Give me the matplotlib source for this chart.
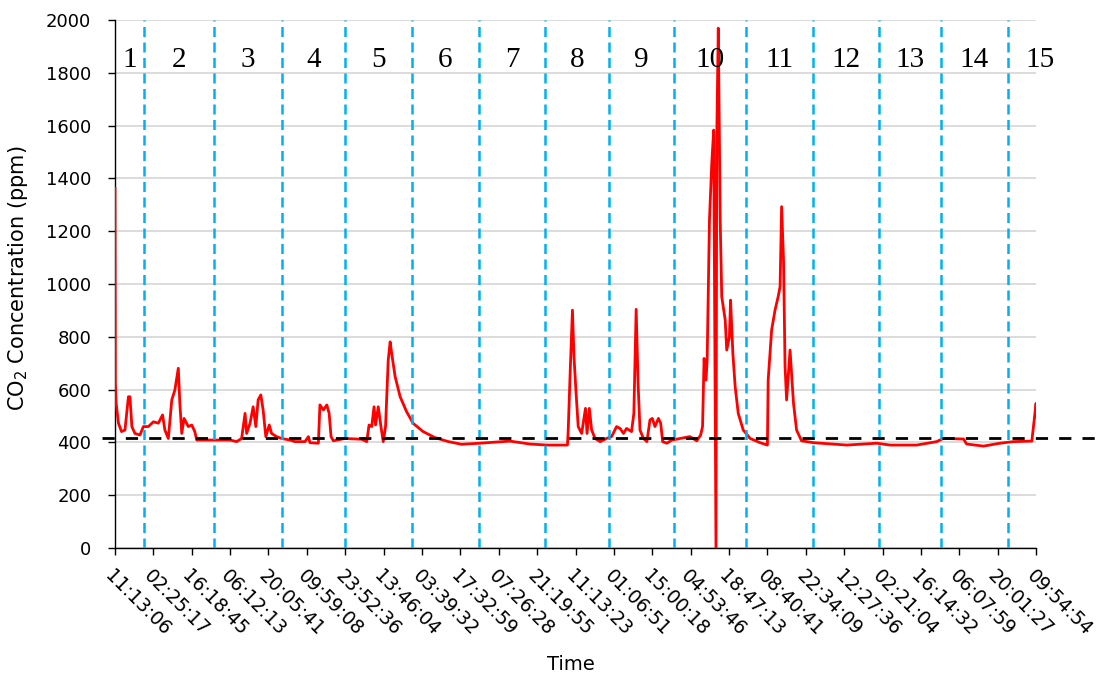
import matplotlib
matplotlib.use("Agg")
import matplotlib.pyplot as plt
import matplotlib.transforms as mtransforms

# x positions are in units of the labelled reading intervals (tick index)
tick_labels = ["11:13:06", "02:25:17", "16:18:45", "06:12:13", "20:05:41",
               "09:59:08", "23:52:36", "13:46:04", "03:39:32", "17:32:59",
               "07:26:28", "21:19:55", "11:13:23", "01:06:51", "15:00:18",
               "04:53:46", "18:47:13", "08:40:41", "22:34:09", "12:27:36",
               "02:21:04", "16:14:32", "06:07:59", "20:01:27", "09:54:54"]

reading_pos = [0.00, 0.01, 0.03, 0.09, 0.17, 0.26, 0.35, 0.39, 0.44, 0.52,
               0.65, 0.74, 0.87, 1.00, 1.13, 1.24, 1.30, 1.39, 1.48, 1.56,
               1.65, 1.69, 1.74, 1.80, 1.91, 2.00, 2.08, 2.13, 2.48, 3.00,
               3.17, 3.30, 3.39, 3.43, 3.52, 3.60, 3.67, 3.73, 3.80, 3.86,
               3.93, 4.02, 4.08, 4.21, 4.34, 4.56, 4.69, 4.95, 5.04, 5.08,
               5.30, 5.34, 5.43, 5.52, 5.58, 5.63, 5.69, 5.99, 6.43, 6.56,
               6.62, 6.69, 6.75, 6.79, 6.86, 6.93, 6.99, 7.05, 7.12, 7.17,
               7.21, 7.30, 7.43, 7.60, 7.77, 8.03, 8.34, 8.69, 9.03, 9.51,
               10.29, 10.81, 11.25, 11.79, 11.81, 11.86, 11.92, 11.96, 12.01, 12.07,
               12.16, 12.20, 12.26, 12.30, 12.36, 12.42, 12.51, 12.64, 12.81, 12.94,
               13.07, 13.16, 13.25, 13.33, 13.46, 13.52, 13.58, 13.63, 13.68, 13.77,
               13.86, 13.94, 14.00, 14.07, 14.16, 14.22, 14.27, 14.38, 14.51, 14.72,
               14.98, 15.16, 15.26, 15.31, 15.35, 15.40, 15.43, 15.49, 15.55, 15.60,
               15.66, 15.68, 15.72, 15.77, 15.81, 15.90, 15.94, 16.01, 16.04, 16.10,
               16.16, 16.24, 16.37, 16.55, 16.81, 17.00, 17.02, 17.11, 17.20, 17.28,
               17.33, 17.37, 17.42, 17.46, 17.50, 17.59, 17.68, 17.76, 17.89, 18.20,
               19.07, 19.85, 20.20, 20.89, 21.41, 21.58, 22.11, 22.19, 22.63, 23.06,
               23.41, 23.89, 23.97, 24.00, 24.02]

co2_ppm = [1362, 624, 549, 473, 441, 447, 573, 573, 460, 434,
           428, 460, 460, 478, 473, 504, 447, 415, 561, 598,
           681, 548, 434, 491, 460, 466, 441, 409, 409, 409,
           403, 415, 510, 434, 473, 535, 460, 561, 580, 523,
           422, 466, 434, 422, 415, 409, 403, 403, 422, 399,
           397, 542, 523, 542, 510, 422, 406, 415, 412, 403,
           466, 460, 535, 466, 535, 460, 403, 460, 712, 781,
           737, 649, 573, 516, 472, 441, 418, 403, 393, 397,
           405, 394, 390, 390, 447, 662, 901, 725, 598, 460,
           434, 472, 529, 434, 529, 447, 415, 403, 415, 422,
           460, 453, 434, 453, 441, 510, 904, 624, 447, 415,
           403, 485, 491, 460, 491, 472, 403, 397, 409, 415,
           422, 406, 428, 460, 718, 636, 712, 1242, 1457, 1583,
           0, 1550, 1969, 1242, 952, 864, 750, 800, 939, 737,
           611, 510, 447, 415, 399, 390, 636, 826, 902, 952,
           990, 1293, 1091, 687, 561, 750, 548, 447, 406, 399,
           390, 397, 390, 390, 403, 415, 413, 394, 386, 397,
           403, 405, 510, 548, 497]

# midnight between consecutive days
midnights = [0.76, 2.58, 4.35, 5.99, 7.73, 9.49, 11.20, 12.88, 14.57,
             16.44, 18.20, 19.90, 21.52, 23.26]
days = list(range(1, 16))
ambient_ppm = 415

fig = plt.figure(figsize=(11.12, 6.77), dpi=100)
ax = fig.add_axes([0.1034, 0.1905, 0.8283, 0.78])

ax.set_xlim(0, 24)
ax.set_ylim(0, 2000)
ax.set_yticks(range(0, 2001, 200))
ax.yaxis.grid(True, color="#d9d9d9", linewidth=1.3)
ax.set_axisbelow(True)

ax.plot(reading_pos, co2_ppm, color="#ff0000", linewidth=2.0, zorder=3)

for m in midnights:
    ax.axvline(m, color="#00b0f0", linewidth=1.8, dashes=(4, 2.2), zorder=4)

# ambient reference level, running a little past both ends of the axis
trans = mtransforms.blended_transform_factory(ax.transAxes, ax.transData)
ax.plot([-0.014, 1.064], [ambient_ppm, ambient_ppm], transform=trans,
        color="black", linewidth=2.0, dashes=(4.4, 4.0), clip_on=False, zorder=5)

edges = [0] + midnights + [24.95]
for i, d in enumerate(days):
    xc = (edges[i] + edges[i + 1]) / 2
    ax.text(xc, 1848, str(d), ha="center", va="center",
            family="Liberation Serif", fontsize=21, clip_on=False)

ax.set_xticks(range(len(tick_labels)))
ax.set_xticklabels(tick_labels, rotation=-45, ha="left", va="top",
                   rotation_mode="anchor", fontsize=13.5)
ax.tick_params(axis="x", direction="out", length=5, width=1, pad=8)
ax.tick_params(axis="y", direction="out", length=5, width=1, pad=12, labelsize=13)

for side in ["top", "right"]:
    ax.spines[side].set_visible(False)
for side in ["left", "bottom"]:
    ax.spines[side].set_linewidth(1.0)

ax.set_ylabel("CO$_2$ Concentration (ppm)", fontsize=15)
ax.yaxis.set_label_coords(-0.092, 0.51)
ax.set_xlabel("Time", fontsize=14)
ax.xaxis.set_label_coords(0.495, -0.203)

fig.savefig("out.png", dpi=100)
